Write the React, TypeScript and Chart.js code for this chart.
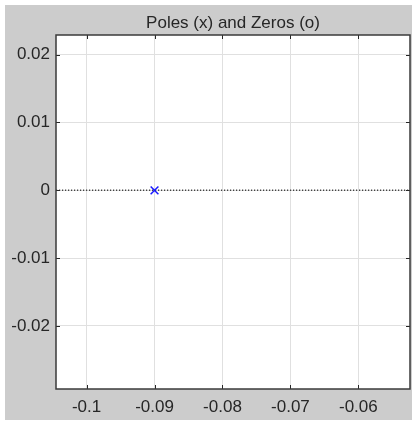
import React, { useEffect, useRef } from "react";
import { Chart, registerables } from "chart.js";

Chart.register(...registerables);

// ---- data ----
const titleText = "Poles (x) and Zeros (o)";
const xTicks = [-0.1, -0.09, -0.08, -0.07, -0.06];
const yTicks = [0.02, 0.01, 0, -0.01, -0.02];
const xLimits = [-0.1045, -0.0524];
const yLimits = [-0.0293, 0.0229];
const poleRe = [-0.09];
const poleIm = [0];
const zeroLineY = [0, 0];

const FONT = "'Liberation Sans', Arial, Helvetica, sans-serif";
const TEXT = "#262626";

const framePlugin = {
  id: "matlabFrame",
  beforeDraw(chart: any) {
    const { ctx, chartArea: a } = chart;
    ctx.save();
    ctx.fillStyle = "#ffffff";
    ctx.fillRect(0, 0, chart.width, chart.height);
    ctx.fillStyle = "#cccccc";
    ctx.fillRect(5, 5, chart.width - 5, chart.height - 9);
    ctx.fillStyle = "#ffffff";
    ctx.fillRect(a.left, a.top, a.right - a.left, a.bottom - a.top);
    ctx.restore();
  },
  afterDraw(chart: any) {
    const { ctx, chartArea: a, scales } = chart;
    ctx.save();
    ctx.strokeStyle = TEXT;
    ctx.lineWidth = 1;
    const tl = 4;
    ctx.beginPath();
    for (const t of scales.x.ticks) {
      const px = Math.round(scales.x.getPixelForValue(t.value)) + 0.5;
      ctx.moveTo(px, a.bottom);
      ctx.lineTo(px, a.bottom - tl);
      ctx.moveTo(px, a.top);
      ctx.lineTo(px, a.top + tl);
    }
    for (const t of scales.y.ticks) {
      const py = Math.round(scales.y.getPixelForValue(t.value)) + 0.5;
      ctx.moveTo(a.left, py);
      ctx.lineTo(a.left + tl, py);
      ctx.moveTo(a.right, py);
      ctx.lineTo(a.right - tl, py);
    }
    ctx.stroke();
    ctx.strokeStyle = "#3a3a3a";
    ctx.lineWidth = 1.5;
    ctx.strokeRect(a.left, a.top, a.right - a.left, a.bottom - a.top);
    // title centred over the axes
    ctx.fillStyle = TEXT;
    ctx.font = `17px ${FONT}`;
    ctx.textAlign = "center";
    ctx.textBaseline = "middle";
    ctx.fillText(titleText, (a.left + a.right) / 2, 23);
    ctx.restore();
  },
};

export default function App() {
  const ref = useRef<HTMLCanvasElement | null>(null);
  useEffect(() => {
    if (!ref.current) return;
    const chart = new Chart(ref.current, {
      type: "scatter",
      data: {
        datasets: [
          {
            label: "poles",
            data: poleRe.map((x, i) => ({ x, y: poleIm[i] })),
            pointStyle: "crossRot",
            pointRadius: 5.5,
            pointBorderColor: "#1a1aff",
            pointBorderWidth: 1.5,
            borderColor: "#1a1aff",
            showLine: false,
          } as any,
          {
            label: "zero line",
            data: xLimits.map((x, i) => ({ x, y: zeroLineY[i] })),
            showLine: true,
            borderColor: "#444444",
            borderWidth: 1.5,
            borderDash: [1.2, 1.8],
            pointRadius: 0,
          } as any,
        ],
      },
      plugins: [framePlugin],
      options: {
        responsive: false,
        animation: false,
        events: [],
        layout: { autoPadding: false, padding: { left: 0, top: 35, right: 2, bottom: 5 } },
        plugins: {
          legend: { display: false },
          tooltip: { enabled: false },
          title: { display: false },
        },
        scales: {
          x: {
            type: "linear",
            min: xLimits[0],
            max: xLimits[1],
            afterBuildTicks: (s: any) => {
              s.ticks = xTicks.map((v) => ({ value: v }));
            },
            afterFit: (s: any) => {
              s.height = 30;
              s.paddingLeft = 0;
              s.paddingRight = 0;
            },
            grid: { color: "#e0e0e0", lineWidth: 1, drawTicks: false },
            border: { display: false },
            ticks: {
              color: TEXT,
              font: { family: FONT, size: 17 },
              padding: 8,
              maxRotation: 0,
              autoSkip: false,
              callback: (v: any) => String(v),
            },
          },
          y: {
            type: "linear",
            min: yLimits[0],
            max: yLimits[1],
            afterBuildTicks: (s: any) => {
              s.ticks = yTicks.map((v) => ({ value: v }));
            },
            afterFit: (s: any) => {
              s.width = 56;
              s.paddingTop = 0;
              s.paddingBottom = 0;
            },
            grid: { color: "#e0e0e0", lineWidth: 1, drawTicks: false },
            border: { display: false },
            ticks: {
              color: TEXT,
              font: { family: FONT, size: 17 },
              padding: 6,
              autoSkip: false,
              callback: (v: any) => String(v),
            },
          },
        },
      } as any,
    });
    return () => chart.destroy();
  }, []);
  return (
    <div style={{ position: "absolute", left: 0, top: 0, width: 412, height: 424 }}>
      <canvas ref={ref} width={412} height={424} style={{ display: "block" }} />
    </div>
  );
}
